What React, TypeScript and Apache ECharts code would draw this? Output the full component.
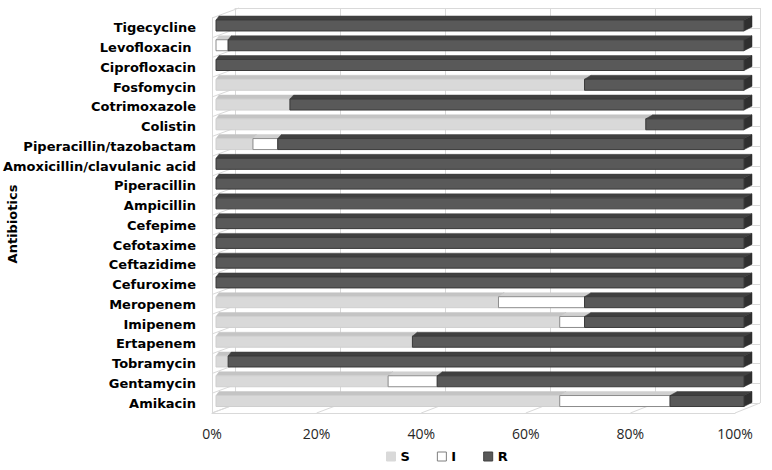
import React, { useEffect, useRef } from "react";
import * as echarts from "echarts";

// Categories listed bottom -> top (ECharts category y axis starts at the bottom)
const categories = [
  "Amikacin",
  "Gentamycin",
  "Tobramycin",
  "Ertapenem",
  "Imipenem",
  "Meropenem",
  "Cefuroxime",
  "Ceftazidime",
  "Cefotaxime",
  "Cefepime",
  "Ampicillin",
  "Piperacillin",
  "Amoxicillin/clavulanic acid",
  "Piperacillin/tazobactam",
  "Colistin",
  "Cotrimoxazole",
  "Fosfomycin",
  "Ciprofloxacin",
  "Levofloxacin ",
  "Tigecycline",
];

const susceptible = [65.1, 32.6, 2.3, 37.2, 65.1, 53.5, 0, 0, 0, 0, 0, 0, 0, 7.0, 81.4, 14.0, 69.8, 0, 0, 0];
const intermediate = [20.9, 9.3, 0, 0, 4.7, 16.3, 0, 0, 0, 0, 0, 0, 0, 4.7, 0, 0, 0, 0, 2.3, 0];
const resistant = [14.0, 58.1, 97.7, 62.8, 30.2, 30.2, 100, 100, 100, 100, 100, 100, 100, 88.3, 18.6, 86.0, 30.2, 100, 97.7, 100];

const seriesNames = ["S", "I", "R"];
const xTicks = [0, 20, 40, 60, 80, 100];

const styles = [
  { front: "#d9d9d9", top: "#c4c4c4", side: "#b0b0b0", stroke: "#cfcfcf", legendBorder: "#d9d9d9" },
  { front: "#ffffff", top: "#d0d0d0", side: "#bcbcbc", stroke: "#8c8c8c", legendBorder: "#7f7f7f" },
  { front: "#595959", top: "#404040", side: "#2f2f2f", stroke: "#3a3a3a", legendBorder: "#404040" },
];

const FRAME = "#d9d9d9";
const FONT = "'Open Sans', 'Liberation Sans', sans-serif";
const BOLD_FONT = "'DejaVu Sans', 'Open Sans', sans-serif";

export default function App() {
  const ref = useRef<HTMLDivElement>(null);

  useEffect(() => {
    if (!ref.current) return;
    const chart = echarts.init(ref.current, undefined, { renderer: "svg" });

    const arrays = [susceptible, intermediate, resistant];
    const seriesData = arrays.map((arr, k) =>
      arr.map((v, i) => {
        let start = 0;
        for (let j = 0; j < k; j++) start += arrays[j][i];
        return [start, start + v, i];
      })
    );

    const makeRender = (st: any) => (params: any, api: any) => {
      const x0 = api.value(0);
      const x1 = api.value(1);
      const c = api.value(2);
      if (x1 - x0 <= 0.001) return null;
      const p0 = api.coord([x0, c]);
      const p1 = api.coord([x1, c]);
      const h = 11;
      const top = p0[1] - h / 2;
      const bot = top + h;
      const dy = 4;
      const d0 = 3 + (5 * x0) / 100;
      const d1 = 3 + (5 * x1) / 100;
      return {
        type: "group",
        children: [
          {
            type: "polygon",
            shape: { points: [[p0[0], top], [p1[0], top], [p1[0] + d1, top - dy], [p0[0] + d0, top - dy]] },
            style: { fill: st.top, stroke: st.top, lineWidth: 0.5 },
          },
          {
            type: "polygon",
            shape: { points: [[p1[0], top], [p1[0] + d1, top - dy], [p1[0] + d1, bot - dy], [p1[0], bot]] },
            style: { fill: st.side, stroke: st.side, lineWidth: 0.5 },
          },
          {
            type: "rect",
            shape: { x: p0[0], y: top, width: p1[0] - p0[0], height: h },
            style: { fill: st.front, stroke: st.stroke, lineWidth: 1 },
          },
        ],
      };
    };

    const frameRender = (params: any, api: any) => {
      const cs = params.coordSys;
      const left = cs.x;
      const top = cs.y;
      const h = cs.height;
      const bottom = top + h;
      const children: any[] = [];
      xTicks.forEach((v) => {
        const fx = api.coord([v, 0])[0];
        children.push({
          type: "line",
          shape: { x1: fx, y1: bottom, x2: fx + 27 - (2 * v) / 100, y2: bottom - 10 },
          style: { stroke: FRAME, lineWidth: 1 },
        });
      });
      const n = categories.length;
      for (let k = 0; k <= n; k++) {
        const y = top + (k * h) / n;
        children.push({
          type: "line",
          shape: { x1: left, y1: y, x2: left + 27, y2: y - 10 },
          style: { stroke: FRAME, lineWidth: 1 },
        });
      }
      return { type: "group", children };
    };

    const option: any = {
      animation: false,
      backgroundColor: "#ffffff",
      textStyle: { fontFamily: FONT },
      grid: [
        // back wall
        { left: 235, right: 12, top: 8, bottom: 67 },
        // bar plane
        { left: 216, right: 28, top: 15.6, bottom: 59.1 },
        // front plane (labels)
        { left: 208, right: 37, top: 18, bottom: 57 },
      ],
      xAxis: [
        {
          gridIndex: 0,
          type: "value",
          min: 0,
          max: 100,
          interval: 20,
          position: "top",
          axisLine: { show: true, lineStyle: { color: FRAME, width: 1 } },
          axisTick: { show: false },
          axisLabel: { show: false },
          splitLine: { show: true, lineStyle: { color: FRAME, width: 1 } },
        },
        {
          gridIndex: 1,
          type: "value",
          min: 0,
          max: 100,
          interval: 20,
          show: false,
        },
        {
          gridIndex: 2,
          type: "value",
          min: 0,
          max: 100,
          interval: 20,
          axisLine: { show: true, lineStyle: { color: FRAME, width: 1 } },
          axisTick: { show: false },
          splitLine: { show: false },
          axisLabel: {
            formatter: "{value}%",
            color: "#262626",
            fontSize: 14,
            fontFamily: FONT,
            margin: 13,
          },
        },
      ],
      yAxis: [
        {
          gridIndex: 0,
          type: "category",
          data: categories,
          axisLine: { show: false },
          axisTick: { show: false },
          axisLabel: { show: false },
          splitLine: { show: true, interval: 0, lineStyle: { color: FRAME, width: 1 } },
        },
        {
          gridIndex: 1,
          type: "category",
          data: categories,
          show: false,
        },
        {
          gridIndex: 2,
          type: "category",
          data: categories,
          axisLine: { show: true, lineStyle: { color: FRAME, width: 1 } },
          axisTick: { show: false },
          splitLine: { show: false },
          axisLabel: {
            interval: 0,
            color: "#000000",
            fontWeight: "bold",
            fontSize: 13,
            fontFamily: BOLD_FONT,
            margin: 16,
            padding: [7, 0, 0, 0],
          },
        },
      ],
      legend: {
        left: 386,
        top: 450,
        padding: 0,
        itemWidth: 9,
        itemHeight: 9,
        itemGap: 27,
        icon: "rect",
        textStyle: { fontWeight: "bold", fontSize: 13, color: "#000", fontFamily: BOLD_FONT },
        data: seriesNames.map((name, k) => ({
          name,
          icon: "rect",
          itemStyle: { color: styles[k].front, borderColor: styles[k].legendBorder, borderWidth: 1 },
        })),
      },
      graphic: [
        {
          type: "text",
          x: 12,
          y: 224,
          rotation: Math.PI / 2,
          style: {
            text: "Antibiotics",
            fill: "#000",
            font: `bold 13px ${BOLD_FONT}`,
            align: "center",
            verticalAlign: "middle",
          },
        },
      ],
      series: [
        {
          type: "custom",
          name: "frame",
          xAxisIndex: 2,
          yAxisIndex: 2,
          silent: true,
          z: 1,
          data: [[0, 0]],
          renderItem: frameRender,
        },
        ...seriesNames.map((name, k) => ({
          type: "custom",
          name,
          xAxisIndex: 1,
          yAxisIndex: 1,
          z: 3 + k,
          itemStyle: { color: styles[k].front, borderColor: styles[k].legendBorder, borderWidth: 1 },
          encode: { x: [0, 1], y: 2 },
          data: seriesData[k],
          renderItem: makeRender(styles[k]),
        })),
      ],
    };

    chart.setOption(option);
    return () => chart.dispose();
  }, []);

  return (
    <div
      ref={ref}
      style={{ position: "absolute", left: 0, top: 0, width: 772, height: 470 }}
    />
  );
}
